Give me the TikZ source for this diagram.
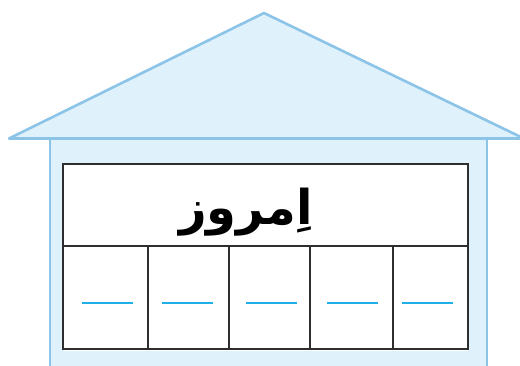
\documentclass[tikz,border=0pt]{standalone}
\usepackage{fontspec}
\newfontfamily\arabicfont[Script=Arabic]{DejaVu Sans}
\TeXXeTstate=1
\definecolor{roofblue}{HTML}{8CC4E8}
\definecolor{wallfill}{HTML}{DFF1FA}
\definecolor{dashblue}{HTML}{1FB0E6}
\definecolor{gridline}{HTML}{2E2E2E}

\begin{document}
\begin{tikzpicture}[x=1pt,y=-1pt, house/.style={draw=roofblue,fill=wallfill,line width=2.6pt,line join=round}, grid/.style={draw=gridline,line width=2.4pt}, blank/.style={draw=dashblue,line width=2.6pt}]
 \useasboundingbox (0,0) rectangle (520,365);
 % walls and roof
 \path[house] (50,139) -- (50,370) -- (487,370) -- (487,139);
 \path[house] (9,138.5) -- (264,13) -- (524,138.5) -- cycle;
 % word table
 \fill[white] (64,165) rectangle (468,351);
 \draw[grid] (63,164) rectangle (468,349);
 \draw[grid] (63,246) -- (468,246);
 \foreach \x in {148,229,310,393}
   \draw[grid] (\x,246) -- (\x,349);
 \node (word) at (246,212) {\fontsize{48}{54}\selectfont\arabicfont\bfseries\beginR اِمروز\endR};
 % blanks to fill
 \coordinate (b1) at (82,303);
 \coordinate (b2) at (162,303);
 \coordinate (b3) at (246,303);
 \coordinate (b4) at (327,303);
 \coordinate (b5) at (402,303);
 \foreach \b in {b1,b2,b3,b4,b5}
   \draw[blank] (\b) -- ++(51,0);
\end{tikzpicture}
\end{document}
